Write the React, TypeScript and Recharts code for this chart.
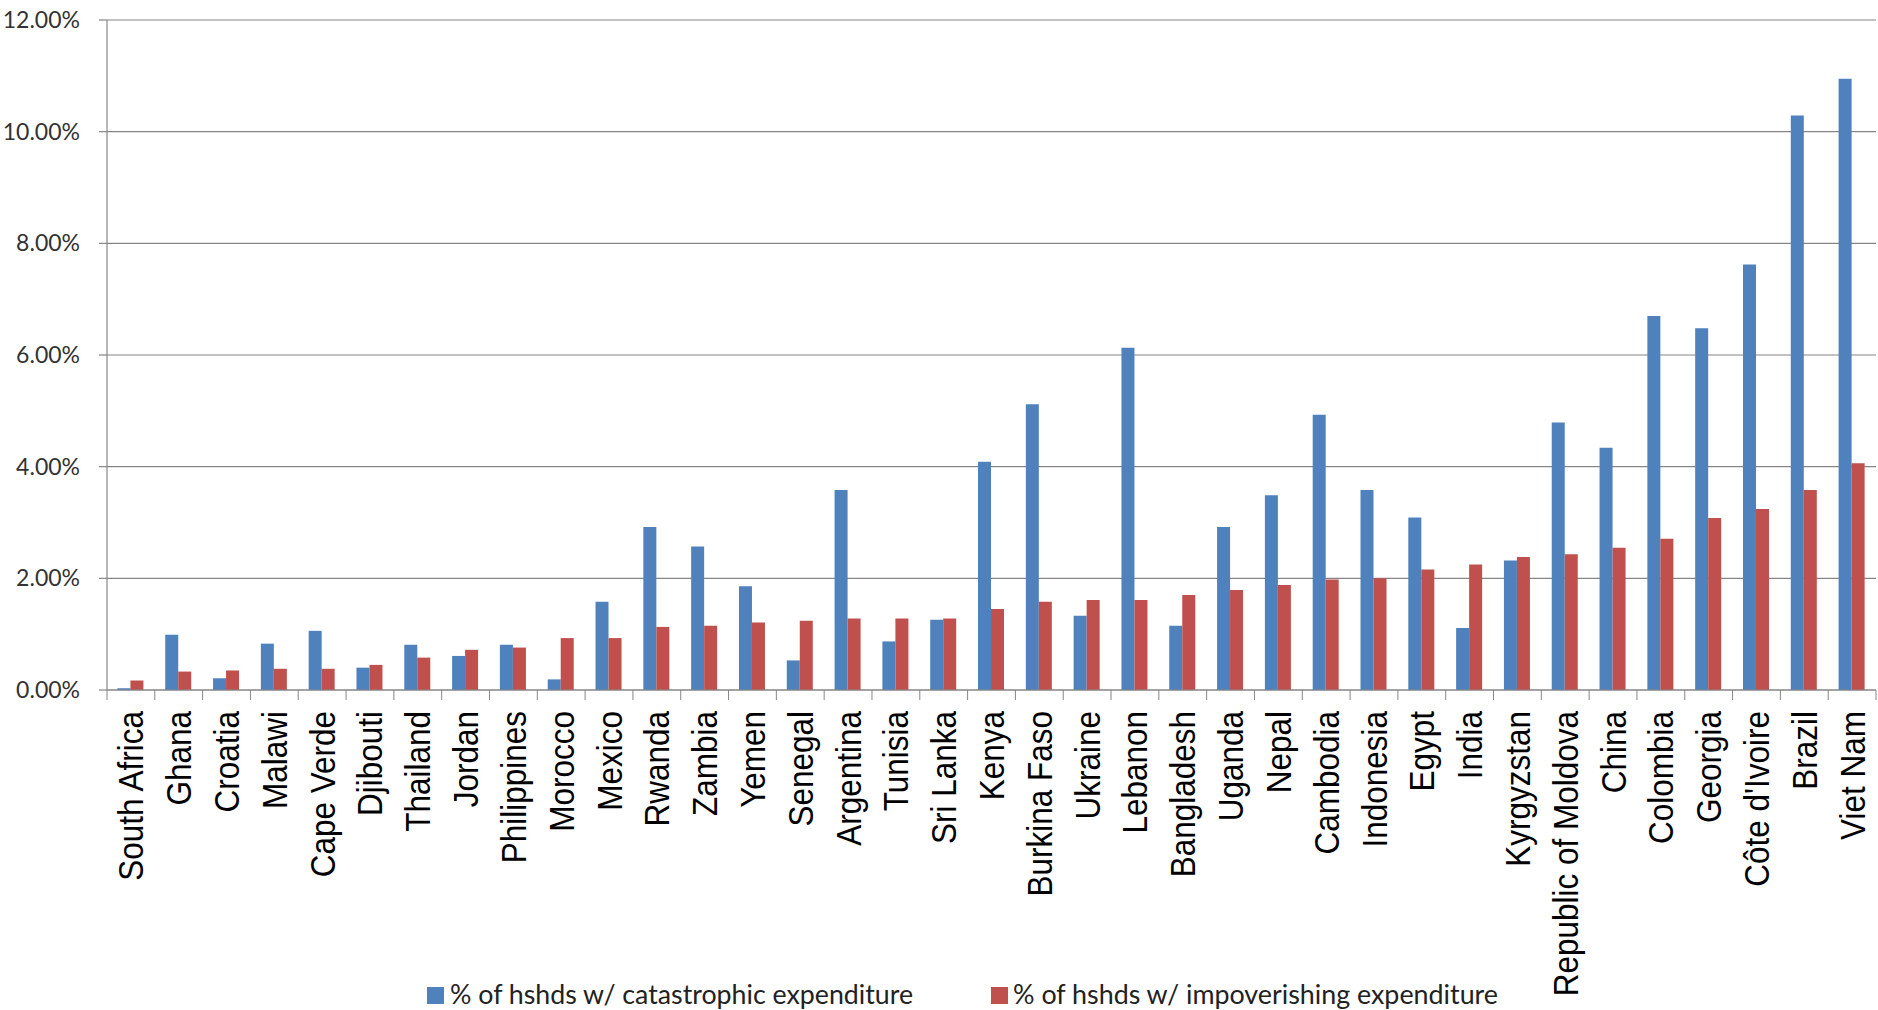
import React from "react";
import { BarChart, Bar, XAxis, YAxis, CartesianGrid, Legend } from "recharts";

const countries = [
  "South Africa", "Ghana", "Croatia", "Malawi", "Cape Verde", "Djibouti", "Thailand", "Jordan",
  "Philippines", "Morocco", "Mexico", "Rwanda", "Zambia", "Yemen", "Senegal", "Argentina",
  "Tunisia", "Sri Lanka", "Kenya", "Burkina Faso", "Ukraine", "Lebanon", "Bangladesh", "Uganda",
  "Nepal", "Cambodia", "Indonesia", "Egypt", "India", "Kyrgyzstan", "Republic of Moldova", "China",
  "Colombia", "Georgia", "Côte d'Ivoire", "Brazil", "Viet Nam",
];

const catastrophic = [
  0.03, 0.99, 0.21, 0.83, 1.06, 0.40, 0.81, 0.61, 0.81, 0.19, 1.58, 2.92, 2.57, 1.86, 0.53, 3.58,
  0.87, 1.26, 4.09, 5.12, 1.33, 6.13, 1.15, 2.92, 3.49, 4.93, 3.58, 3.09, 1.11, 2.32, 4.79, 4.34,
  6.70, 6.48, 7.62, 10.29, 10.95,
];

const impoverishing = [
  0.17, 0.33, 0.35, 0.38, 0.38, 0.45, 0.58, 0.72, 0.76, 0.93, 0.93, 1.13, 1.15, 1.21, 1.24, 1.28,
  1.28, 1.28, 1.45, 1.58, 1.61, 1.61, 1.70, 1.79, 1.88, 1.98, 2.00, 2.16, 2.25, 2.38, 2.43, 2.55,
  2.71, 3.08, 3.24, 3.58, 4.06,
];

const yTicks = [0, 2, 4, 6, 8, 10, 12];

const seriesNames = [
  "% of hshds w/ catastrophic expenditure",
  "% of hshds w/ impoverishing expenditure",
];
const colors = ["#4F81BD", "#C0504D"];

const data = countries.map((c, i) => ({
  country: c,
  cat: catastrophic[i],
  imp: impoverishing[i],
}));

const W = 1878;
const H = 1010;
const PLOT_LEFT = 107;
const PLOT_RIGHT = 2;
const BAND = (W - PLOT_LEFT - PLOT_RIGHT) / countries.length;
const GRID = "#868686";

const XTick = (props: any) => {
  const { x, y, payload, index } = props;
  const last = index === countries.length - 1;
  const sx = 0.9;
  return (
    <g transform={`translate(${x},${y})`}>
      <line x1={-BAND / 2} y1={0} x2={-BAND / 2} y2={10} stroke={GRID} strokeWidth={1} />
      {last && <line x1={BAND / 2} y1={0} x2={BAND / 2} y2={10} stroke={GRID} strokeWidth={1} />}
      <text
        transform={`rotate(-90) scale(${sx},1)`}
        x={-21 / sx}
        y={12.5}
        textAnchor="end"
        fontSize={35}
        fontFamily="'Liberation Sans', Arial, sans-serif"
        fill="#000"
      >
        {payload.value}
      </text>
    </g>
  );
};

const LegendContent = (props: any) => {
  const { payload } = props;
  const items = [
    { sq: 427, tx: 450, len: 463 },
    { sq: 991, tx: 1013, len: 485 },
  ];
  return (
    <svg width={W} height={50} style={{ display: "block" }}>
      {(payload || []).map((p: any, i: number) => (
        <g key={i}>
          <rect x={items[i].sq} y={27} width={17} height={17} fill={p.color} />
          <text
            x={items[i].tx}
            y={44}
            fontSize={26}
            fontFamily="Lato, 'Open Sans', sans-serif"
            fill="#222"
            textLength={items[i].len}
            lengthAdjust="spacingAndGlyphs"
          >
            {p.value}
          </text>
        </g>
      ))}
    </svg>
  );
};

export default function App() {
  return (
    <div style={{ position: "absolute", left: 0, top: 0, width: W, height: H, background: "#fff" }}>
      <BarChart
        width={W}
        height={H}
        data={data}
        margin={{ top: 20, right: PLOT_RIGHT, left: 0, bottom: 0 }}
        barCategoryGap="21.8%"
        barGap={0}
      >
        <CartesianGrid vertical={false} stroke={GRID} strokeWidth={1.2} />
        <XAxis
          dataKey="country"
          height={270}
          interval={0}
          tickLine={false}
          tickSize={0}
          tickMargin={0}
          axisLine={{ stroke: GRID, strokeWidth: 1.2 }}
          tick={<XTick />}
        />
        <YAxis
          width={PLOT_LEFT}
          domain={[0, 12]}
          ticks={yTicks}
          interval={0}
          tickSize={8}
          tickMargin={19}
          axisLine={{ stroke: GRID, strokeWidth: 1.2 }}
          tickLine={{ stroke: GRID, strokeWidth: 1.2 }}
          tickFormatter={(v: number) => `${v.toFixed(2)}%`}
          tick={{ fontSize: 23, fontFamily: "Lato, 'Open Sans', sans-serif", fill: "#333" }}
        />
        <Legend
          verticalAlign="bottom"
          align="left"
          height={50}
          width={W}
          wrapperStyle={{ left: 0 }}
          content={<LegendContent />}
        />
        <Bar dataKey="cat" name={seriesNames[0]} fill={colors[0]} isAnimationActive={false} />
        <Bar dataKey="imp" name={seriesNames[1]} fill={colors[1]} isAnimationActive={false} />
      </BarChart>
    </div>
  );
}
